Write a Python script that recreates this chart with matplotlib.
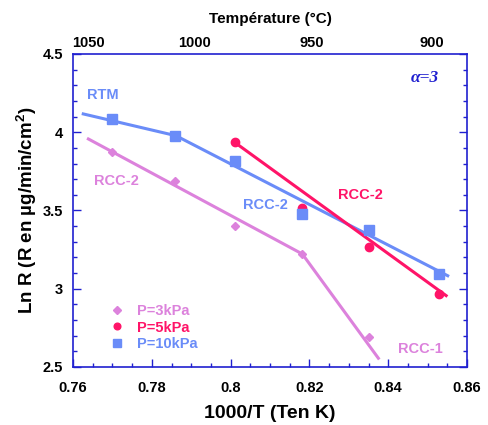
import numpy as np
import matplotlib.pyplot as plt
import matplotlib.ticker as ticker

plt.rcParams['font.family'] = ['Liberation Sans', 'DejaVu Sans']
plt.rcParams['font.weight'] = 'bold'

# mesures (1000/T, Ln R)
x_3k = [0.770, 0.786, 0.801, 0.818, 0.835]
y_3k = [3.876, 3.688, 3.403, 3.222, 2.690]
x_5k = [0.801, 0.818, 0.835, 0.853]
y_5k = [3.936, 3.514, 3.269, 2.964]
x_10k = [0.770, 0.786, 0.801, 0.818, 0.835, 0.853]
y_10k = [4.085, 3.978, 3.818, 3.476, 3.375, 3.092]

# droites d'ajustement
fit_3k_x = [0.7639, 0.8182, 0.8375]
fit_3k_y = [3.957, 3.222, 2.556]
fit_5k_x = [0.801, 0.8547]
fit_5k_y = [3.936, 2.956]
fit_10k_x = [0.7626, 0.7861, 0.8551]
fit_10k_y = [4.117, 3.978, 3.083]

# axe du haut (temperature)
temp_pos = [0.7638, 0.7908, 0.8205, 0.8510]
temp_lbl = ['1050', '1000', '950', '900']

c3 = '#dc82dc'
c5 = '#ff1468'
c10 = '#6a8cf8'
cax = '#2020d0'

fig = plt.figure(figsize=(4.88, 4.25), dpi=100)
ax = fig.add_axes([0.1496, 0.1365, 0.8074, 0.7365])

ax.plot(fit_3k_x, fit_3k_y, color=c3, lw=2.2)
ax.plot(fit_10k_x, fit_10k_y, color=c10, lw=2.2)
ax.plot(fit_5k_x, fit_5k_y, color=c5, lw=2.2)
ax.plot(x_3k, y_3k, 'D', color=c3, ms=4.5, ls='none', label='P=3kPa')
ax.plot(x_5k, y_5k, 'o', color=c5, ms=6, ls='none', label='P=5kPa')
ax.plot(x_10k, y_10k, 's', color=c10, ms=6.5, ls='none', label='P=10kPa')

ax.set_xlim(0.76, 0.86)
ax.set_ylim(2.5, 4.5)
ax.xaxis.set_major_locator(ticker.MultipleLocator(0.02))
ax.xaxis.set_minor_locator(ticker.MultipleLocator(0.005))
ax.yaxis.set_major_locator(ticker.MultipleLocator(0.5))
ax.yaxis.set_minor_locator(ticker.MultipleLocator(0.1))
ax.xaxis.set_major_formatter(ticker.FuncFormatter(lambda v, p: ('%.2f' % v).rstrip('0').rstrip('.')))
ax.yaxis.set_major_formatter(ticker.FuncFormatter(lambda v, p: ('%.1f' % v).rstrip('0').rstrip('.')))
ax.tick_params(which='both', direction='in', top=True, right=True, color=cax, labelsize=10.5)
ax.tick_params(which='major', length=6, width=1)
ax.tick_params(which='minor', length=3, width=1)
ax.tick_params(axis='x', pad=10)
ax.tick_params(axis='y', pad=7)
for s in ax.spines.values():
    s.set_color(cax)
    s.set_linewidth(1.2)

ax.set_xlabel('1000/T (Ten K)', fontsize=14, fontweight='bold', labelpad=7)
ax.set_ylabel('Ln R (R en µg/min/cm$^\\mathregular{2}$)', fontsize=13.5, fontweight='bold', labelpad=3)

ax2 = ax.twiny()
ax2.set_xlim(ax.get_xlim())
ax2.set_xticks(temp_pos)
ax2.set_xticklabels(temp_lbl)
ax2.tick_params(length=0, labelsize=10.5, pad=3)
for s in ax2.spines.values():
    s.set_visible(False)
ax2.set_xlabel('Température (°C)', fontsize=11, fontweight='bold', labelpad=9)

ax.text(0.7635, 4.21, 'RTM', color=c10, fontsize=10.5)
ax.text(0.7654, 3.663, 'RCC-2', color=c3, fontsize=10.5)
ax.text(0.8032, 3.51, 'RCC-2', color=c10, fontsize=10.5)
ax.text(0.8273, 3.575, 'RCC-2', color=c5, fontsize=10.5)
ax.text(0.8425, 2.591, 'RCC-1', color=c3, fontsize=10.5)
ax.text(0.8458, 4.32, 'α=3', color=cax, fontsize=12.5, style='italic',
        fontweight='bold', family=['Liberation Serif', 'DejaVu Serif'])

leg = ax.legend(loc='lower left', bbox_to_anchor=(0.06, 0.01), frameon=False, fontsize=10.5,
                handlelength=1, handletextpad=0.9, labelspacing=0.15, markerscale=0.8)
for t, c in zip(leg.get_texts(), [c3, c5, c10]):
    t.set_color(c)

fig.savefig('out.png', dpi=100)
